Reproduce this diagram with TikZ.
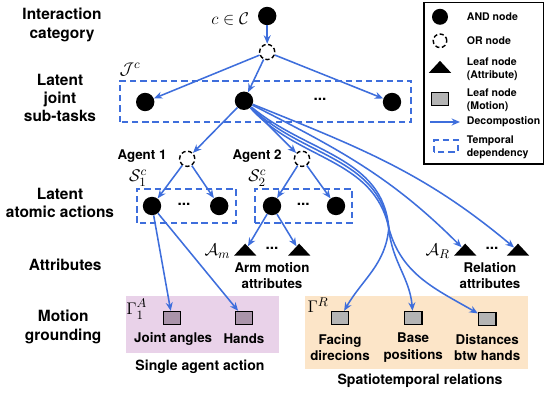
\documentclass[tikz,border=0pt]{standalone}
\usepackage{amsmath}
\usepackage{amssymb}
\usepackage{fontspec}
\setsansfont{TeX Gyre Heros}
\usetikzlibrary{arrows.meta,shapes.geometric}
\definecolor{edgeblue}{RGB}{62,110,220}
\definecolor{singlebg}{RGB}{233,210,233}
\definecolor{singleleaf}{RGB}{170,148,170}
\definecolor{relbg}{RGB}{252,229,200}
\definecolor{relleaf}{RGB}{180,180,180}

\begin{document}
\begin{tikzpicture}[
    andnode/.style={fill,circle,minimum size=0.46cm,inner sep=0},
    ornode/.style={draw,circle,minimum size=0.38cm,inner sep=0,line width=1pt,dash pattern=on 3pt off 1.8pt},
    attrleaf/.style={fill,isosceles triangle,isosceles triangle apex angle=110,isosceles triangle stretches,shape border rotate=90,minimum width=0.56cm,minimum height=0.3cm,inner sep=0},
    motionleaf/.style={draw,line width=0.8pt,minimum width=0.44cm,minimum height=0.33cm,inner sep=0},
    decomp/.style={draw=edgeblue,line width=1.1pt,-{Stealth[length=6pt,width=5pt]}},
    temporal/.style={draw=edgeblue,line width=1.1pt,dash pattern=on 4.5pt off 2.8pt},
    rowlabel/.style={font=\fontsize{11}{13}\selectfont\sffamily\bfseries,align=center},
    attrlabel/.style={font=\fontsize{9.5}{11.5}\selectfont\sffamily\bfseries,align=center},
    legendtext/.style={font=\fontsize{7.5}{9.2}\selectfont\sffamily\bfseries,align=left,anchor=west},
    mathlabel/.style={font=\fontsize{13}{15}\selectfont,inner sep=0.5pt},
    dots/.style={font=\fontsize{11}{13}\selectfont\sffamily\bfseries}
  ]
  \useasboundingbox (0,0) rectangle (13.675,9.9);

  \fill[singlebg] (3.15,1.08) rectangle (6.98,2.5);
  \fill[relbg] (7.63,0.68) rectangle (13.2,2.5);

  \node[rowlabel] (rowcat) at (1.55,9.28) {Interaction\\category};
  \node[rowlabel] (rowjoint) at (1.5,7.45) {Latent\\joint\\sub-tasks};
  \node[rowlabel] (rowatomic) at (1.5,4.83) {Latent\\atomic actions};
  \node[rowlabel] (rowattr) at (1.63,3.28) {Attributes};
  \node[rowlabel] (rowmotion) at (1.58,1.73) {Motion\\grounding};

  \node[andnode] (root) at (6.68,9.5) {};
  \node[mathlabel,anchor=east] (rootlbl) at (6.25,9.42) {$c\in\mathcal{C}$};
  \node[ornode] (rootor) at (6.68,8.6) {};

  \draw[temporal] (3.0,6.85) rectangle (10.28,7.88);
  \node[mathlabel] (jointlbl) at (3.25,8.15) {$\mathcal{J}^c$};
  \node[andnode] (j1) at (3.63,7.35) {};
  \node[andnode] (j2) at (6.1,7.38) {};
  \node[dots] (jdots) at (8.0,7.42) {...};
  \node[andnode] (j3) at (9.8,7.35) {};
  \draw[decomp] (root) -- (rootor);
  \draw[decomp] (rootor) -- (j1);
  \draw[decomp] (rootor) -- (j2);
  \draw[decomp] (rootor) -- (j3);

  \node[attrlabel] (agent1) at (3.55,6.0) {Agent 1};
  \node[attrlabel] (agent2) at (6.43,6.0) {Agent 2};
  \node[mathlabel] (s1lbl) at (3.45,5.45) {$\mathcal{S}_1^c$};
  \node[mathlabel] (s2lbl) at (6.43,5.45) {$\mathcal{S}_2^c$};
  \node[ornode] (or1) at (4.68,5.93) {};
  \node[ornode] (or2) at (7.55,5.93) {};
  \draw[decomp] (j2) -- (or1);
  \draw[decomp] (j2) -- (or2);

  \draw[temporal] (3.43,4.33) rectangle (5.9,5.18);
  \draw[temporal] (6.38,4.33) rectangle (8.8,5.18);
  \node[andnode] (a11) at (3.8,4.75) {};
  \node[dots] (a1dots) at (4.6,4.8) {...};
  \node[andnode] (a1n) at (5.48,4.75) {};
  \node[andnode] (a21) at (6.8,4.75) {};
  \node[dots] (a2dots) at (7.58,4.8) {...};
  \node[andnode] (a2n) at (8.4,4.75) {};
  \draw[decomp] (or1) -- (a11);
  \draw[decomp] (or1) -- (a1n);
  \draw[decomp] (or2) -- (a21);
  \draw[decomp] (or2) -- (a2n);

  \node[attrleaf] (am1) at (6.13,3.63) {};
  \node[dots] (amdots) at (6.8,3.68) {...};
  \node[attrleaf] (am2) at (7.48,3.63) {};
  \node[mathlabel,anchor=east] (amlbl) at (5.78,3.62) {$\mathcal{A}_m$};
  \node[attrlabel] (armlbl) at (6.8,3.0) {Arm motion\\attributes};
  \draw[decomp] (a21) -- (am1);
  \draw[decomp] (a21) -- (am2);

  \node[attrleaf] (ar1) at (11.63,3.63) {};
  \node[dots] (ardots) at (12.3,3.68) {...};
  \node[attrleaf] (ar2) at (12.95,3.63) {};
  \node[mathlabel,anchor=east] (arlbl) at (11.27,3.62) {$\mathcal{A}_R$};
  \node[attrlabel] (rellbl) at (12.25,3.0) {Relation\\attributes};

  \node[mathlabel] (gammaA) at (3.42,2.17) {$\Gamma_1^A$};
  \node[motionleaf,fill=singleleaf] (angles) at (4.3,1.95) {};
  \node[motionleaf,fill=singleleaf] (hands) at (6.1,1.95) {};
  \node[attrlabel] (angleslbl) at (4.33,1.43) {Joint angles};
  \node[attrlabel] (handslbl) at (6.1,1.43) {Hands};
  \node[rowlabel,font=\fontsize{10}{12}\selectfont\sffamily\bfseries] (singlelbl) at (5.0,0.73) {Single agent action};
  \draw[decomp] (a11) -- (angles);
  \draw[decomp] (a11) -- (hands);

  \node[mathlabel] (gammaR) at (7.95,2.28) {$\Gamma^R$};
  \node[motionleaf,fill=relleaf] (facing) at (8.5,1.95) {};
  \node[motionleaf,fill=relleaf] (base) at (10.33,1.95) {};
  \node[motionleaf,fill=relleaf] (dist) at (12.18,1.93) {};
  \node[attrlabel] (facinglbl) at (8.5,1.21) {Facing\\direcions};
  \node[attrlabel] (baselbl) at (10.33,1.21) {Base\\positions};
  \node[attrlabel] (distlbl) at (12.18,1.21) {Distances\\btw hands};
  \node[rowlabel,font=\fontsize{10}{12}\selectfont\sffamily\bfseries] (rellbl2) at (10.5,0.38) {Spatiotemporal relations};

  \coordinate (bundle) at (9.72,4.2);
  \draw[decomp] (j2) to[out=-40,in=95] (bundle) to[out=-95,in=60] (facing);
  \draw[decomp] (j2) to[out=-44,in=98] (bundle) to[out=-85,in=95] (base);
  \draw[decomp] (j2) to[out=-48,in=102] (bundle) to[out=-75,in=150] (dist);
  \draw[decomp] (j2) to[out=-27,in=135] (ar1);
  \draw[decomp] (j2) to[out=-22,in=140] (ar2);

  \draw[line width=0.8pt] (10.6,5.8) rectangle (13.58,9.83);
  \node[andnode,minimum size=0.4cm] (lgand) at (11.0,9.48) {};
  \node[legendtext] (lgandlbl) at (11.55,9.48) {AND node};
  \node[ornode,minimum size=0.34cm] (lgor) at (11.0,8.88) {};
  \node[legendtext] (lgorlbl) at (11.55,8.88) {OR node};
  \node[attrleaf] (lgattr) at (11.0,8.2) {};
  \node[legendtext] (lgattrlbl) at (11.55,8.18) {Leaf node\\(Attribute)};
  \node[motionleaf,fill=relleaf] (lgmotion) at (11.0,7.43) {};
  \node[legendtext] (lgmotionlbl) at (11.55,7.4) {Leaf node\\(Motion)};
  \coordinate (lgfrom) at (10.75,6.85);
  \coordinate (lgto) at (11.5,6.85);
  \draw[decomp] (lgfrom) -- (lgto);
  \node[legendtext] (lgdecomp) at (11.55,6.85) {Decompostion};
  \draw[temporal] (10.85,6.1) rectangle (11.45,6.4);
  \node[legendtext] (lgtemp) at (11.55,6.22) {Temporal\\dependency};
\end{tikzpicture}
\end{document}
